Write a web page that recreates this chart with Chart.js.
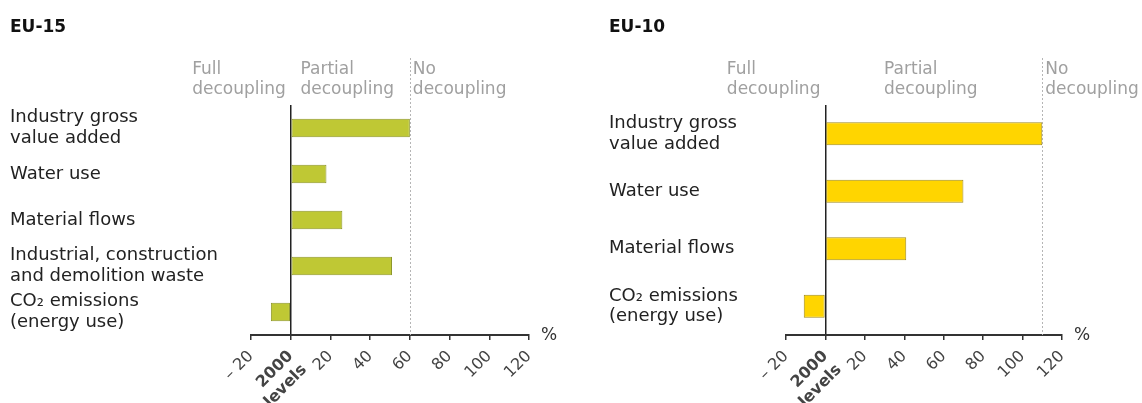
<!DOCTYPE html>
<html><head><meta charset="utf-8">
<script src="https://cdn.jsdelivr.net/npm/chart.js@4"></script>
<style>
html,body{margin:0;padding:0;background:#fff;overflow:hidden}
#wrap{position:relative;width:1142px;height:403px}
canvas{position:absolute;top:0}
</style></head><body>
<div id="wrap">
<canvas id="c15" width="571" height="403" style="left:0;width:571px;height:403px"></canvas>
<canvas id="c10" width="571" height="403" style="left:571px;width:571px;height:403px"></canvas>
</div>
<script>
const categoriesEU15 = [['Industry gross','value added'], 'Water use', 'Material flows', ['Industrial, construction','and demolition waste'], ['CO\u2082 emissions','(energy use)']];
const valuesEU15 = [60, 18, 26, 51, -10];
const categoriesEU10 = [['Industry gross','value added'], 'Water use', 'Material flows', ['CO\u2082 emissions','(energy use)']];
const valuesEU10 = [110, 70, 41, -11];
const tickValues = [-20, 0, 20, 40, 60, 80, 100, 120];
const tickLabels = ['\u2013 20', ['2000','levels'], '20', '40', '60', '80', '100', '120'];
const headerLabels = [['Full','decoupling'], ['Partial','decoupling'], ['No','decoupling']];
const noDecouplingEU15 = 60;
const noDecouplingEU10 = 110;

const FONT = '"DejaVu Sans", Verdana, sans-serif';

function overlay(title, threshold) {
  return {
    id: 'overlay',
    beforeDatasetsDraw(chart) {
      const ctx = chart.ctx, xs = chart.scales.x, a = chart.chartArea;
      const x0 = xs.getPixelForValue(0), xt = xs.getPixelForValue(threshold);
      ctx.save();
      ctx.font = 'bold 17px ' + FONT; ctx.fillStyle = '#111';
      ctx.textAlign = 'left'; ctx.textBaseline = 'alphabetic';
      ctx.fillText(title, chart.options.layout.padding.left, 32);
      ctx.strokeStyle = '#b5b5b5'; ctx.lineWidth = 1; ctx.setLineDash([2, 2]);
      ctx.beginPath();
      ctx.moveTo(Math.round(xt) + 0.5, 58); ctx.lineTo(Math.round(xt) + 0.5, a.bottom);
      ctx.stroke(); ctx.setLineDash([]);
      ctx.font = '17px ' + FONT; ctx.fillStyle = '#a0a0a0';
      const w = lines => Math.max(...lines.map(l => ctx.measureText(l).width));
      const [full, partial, no] = headerLabels;
      const pos = [x0 - 5 - w(full), (x0 + xt) / 2 - w(partial) / 2 - 3, xt + 3];
      [full, partial, no].forEach((lines, i) => lines.forEach((l, j) => ctx.fillText(l, pos[i], 74 + j * 20)));
      ctx.fillStyle = '#333'; ctx.textBaseline = 'middle';
      ctx.fillText('%', a.right + 12, a.bottom + 1);
      ctx.restore();
    }
  };
}

function makeChart(id, title, cats, vals, threshold, fill, border, padL, yWidth, padR) {
  return new Chart(document.getElementById(id), {
    type: 'bar',
    data: { labels: cats, datasets: [{ data: vals, backgroundColor: fill, borderColor: border, borderWidth: 1, borderSkipped: false, barPercentage: 0.4, categoryPercentage: 1 }] },
    options: {
      indexAxis: 'y', responsive: false, animation: false, devicePixelRatio: 1,
      layout: { padding: { left: padL, right: padR, top: 105, bottom: 0 } },
      plugins: { legend: { display: false }, tooltip: { enabled: false } },
      scales: {
        y: {
          position: 'left', grid: { display: false }, border: { display: false },
          ticks: { crossAlign: 'far', padding: 0, color: '#222', autoSkip: false, font: { family: FONT, size: 18, lineHeight: 1.15 } },
          afterFit(s) { s.width = yWidth; }
        },
        x: {
          type: 'linear', min: -20, max: 120,
          afterBuildTicks(s) { s.ticks = tickValues.map(v => ({ value: v })); },
          grid: { drawOnChartArea: true, color: c => (c.tick && c.tick.value === 0) ? '#222' : 'rgba(0,0,0,0)', lineWidth: 1.5, tickColor: '#333', tickLength: 5, tickWidth: 1.5 },
          border: { display: true, color: '#333', width: 2 },
          ticks: {
            minRotation: 45, maxRotation: 45, autoSkip: false, padding: 7, color: '#444',
            font: c => ({ family: FONT, size: 16, weight: (c.tick && c.tick.value === 0) ? 'bold' : 'normal' }),
            callback: v => tickLabels[tickValues.indexOf(v)]
          },
          afterFit(s) { s.height = 68; }
        }
      }
    },
    plugins: [overlay(title, threshold)]
  });
}

makeChart('c15', 'EU-15', categoriesEU15, valuesEU15, noDecouplingEU15, '#bfc834', '#8d9628', 10, 241, 42);
makeChart('c10', 'EU-10', categoriesEU10, valuesEU10, noDecouplingEU10, '#ffd500', '#a08a1c', 38, 177, 80);
</script>
</body></html>
